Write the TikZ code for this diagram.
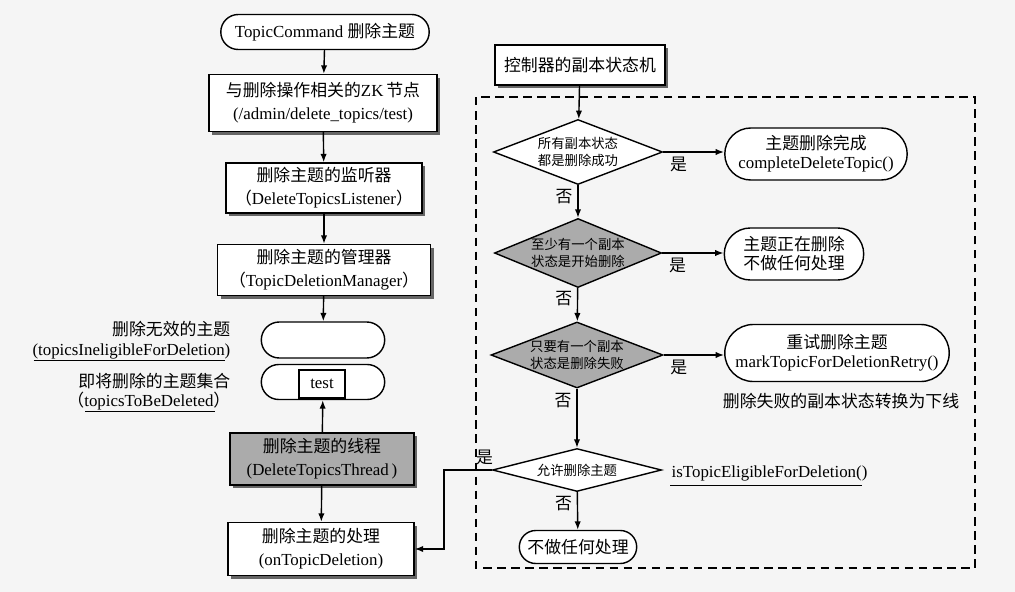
\documentclass[tikz,border=0pt]{standalone}
\usepackage{fontspec}
\setmainfont{Liberation Serif}
\newfontfamily\cjk{Noto Sans CJK SC}
\newcommand\zh[1]{{\cjk #1}}
\usetikzlibrary{shapes.geometric,shapes.misc,arrows.meta}

\tikzset{
  box/.style={draw, line width=1pt, fill=white, align=center, inner sep=2pt,
    preaction={fill=black!60, transform canvas={xshift=2.2pt, yshift=-2.2pt}}},
  pill/.style={rounded rectangle, draw, line width=1pt, fill=white, align=center, inner sep=2pt},
  decision/.style={diamond, draw, line width=1pt, fill=white, inner sep=0pt},
  dtext/.style={align=center, font=\fontsize{9.5}{12}\selectfont},
  arr/.style={line width=1pt, -{Latex[length=6pt,width=4.5pt]}},
  side/.style={inner sep=1pt},
}

\begin{document}
\begin{tikzpicture}[x=0.025cm, y=-0.025cm, font=\fontsize{12}{16.5}\selectfont]
  \fill[black!4] (0,0) rectangle (1015,592);
  \useasboundingbox (0,0) rectangle (1015,592);

  % left column
  \node[pill, minimum width=5.35cm, minimum height=0.875cm] (cmd) at (325,32)
    {TopicCommand \zh{删除主题}};
  \node[box, minimum width=5.7cm, minimum height=1.425cm] (zk) at (323,103)
    {\zh{与删除操作相关的}ZK\,\zh{节点}\\(/admin/delete\_topics/test)};
  \node[box, minimum width=4.9cm, minimum height=1.25cm] (lst) at (324,188)
    {\zh{删除主题的监听器}\\\zh{（}DeleteTopicsListener\zh{）}};
  \node[box, minimum width=5.325cm, minimum height=1.275cm] (mgr) at (324,270)
    {\zh{删除主题的管理器}\\\zh{（}TopicDeletionManager\zh{）}};
  \node[pill, minimum width=3.225cm, minimum height=0.9cm] (inel) at (323,340) {};
  \node[pill, minimum width=3.225cm, minimum height=0.875cm] (tobe) at (323,382) {};
  \node[draw, line width=1pt, fill=white, minimum width=1.15cm, minimum height=0.7cm] (test) at (322,384) {test};
  \node[box, fill=black!33, minimum width=4.6cm, minimum height=1.3cm] (thr) at (322,459)
    {\zh{删除主题的线程}\\(DeleteTopicsThread\,)};
  \node[box, minimum width=4.65cm, minimum height=1.325cm] (proc) at (321,549)
    {\zh{删除主题的处理}\\(onTopicDeletion)};

  % labels beside the pills
  \node[side, anchor=east] (inela) at (232,329) {\zh{删除无效的主题}};
  \node[side, anchor=east] (inelb) at (232,351) {(topicsIneligibleForDeletion)};
  \node[side, anchor=east] (tobea) at (232,381) {\zh{即将删除的主题集合}};
  \node[side, anchor=east] (tobeb) at (232,401) {\zh{（}topicsToBeDeleted\zh{）}};
  \draw[line width=0.9pt] ([xshift=2pt]inelb.south west) -- ([xshift=-5pt]inelb.south east);
  \draw[line width=0.9pt] ([xshift=14pt]tobeb.south west) -- ([xshift=-12pt]tobeb.south east);

  \draw[arr] (cmd) -- (zk);
  \draw[arr] (zk) -- (lst);
  \draw[arr] (lst) -- (mgr);
  \draw[arr] (mgr) -- (inel);
  \draw[arr] (thr) -- (tobe);
  \draw[arr] (thr) -- (proc);

  % replica state machine
  \node[box, minimum width=4.25cm, minimum height=1cm] (ctl) at (580,65) {\zh{控制器的副本状态机}};
  \draw[line width=1pt, dash pattern=on 6pt off 4pt] (476,97) rectangle (975,568);

  \node[decision, minimum width=4.225cm, minimum height=1.625cm,
    label={[dtext]center:\zh{所有副本状态}\\\zh{都是删除成功}}] (d1) at (578,152) {};
  \node[decision, fill=black!33, minimum width=4.175cm, minimum height=1.725cm,
    label={[dtext]center:\zh{至少有一个副本}\\\zh{状态是开始删除}}] (d2) at (578,253) {};
  \node[decision, fill=black!33, minimum width=4.3cm, minimum height=1.65cm,
    label={[dtext]center:\zh{只要有一个副本}\\\zh{状态是删除失败}}] (d3) at (577,355) {};
  \node[decision, minimum width=4.225cm, minimum height=1.075cm,
    label={[dtext]center:\zh{允许删除主题}}] (d4) at (577,470) {};

  \node[pill, minimum width=4.7cm, minimum height=1.3cm] (done) at (816,154)
    {\zh{主题删除完成}\\[-3pt]completeDeleteTopic()};
  \node[pill, minimum width=3.625cm, minimum height=1.3cm] (busy) at (794,254)
    {\zh{主题正在删除}\\[-3pt]\zh{不做任何处理}};
  \node[pill, minimum width=5.75cm, minimum height=1.425cm] (retry) at (837,353)
    {\zh{重试删除主题}\\[-3pt]markTopicForDeletionRetry()};
  \node (offline) at (841,401) {\zh{删除失败的副本状态转换为下线}};
  \node[pill, minimum width=3.075cm, minimum height=0.825cm] (idle) at (578,547) {\zh{不做任何处理}};
  \node[side, anchor=west] (elig) at (670,473) {isTopicEligibleForDeletion()};
  \draw[line width=0.9pt] ([yshift=-2pt]elig.south west) -- ([xshift=-5pt, yshift=-2pt]elig.south east);

  \draw[arr] (ctl) -- (d1);
  \draw[arr] (d1.east) -- node[below, pos=0.25]{\zh{是}} (d1.east -| done.west);
  \draw[arr] (d1) -- node[left, pos=0.35]{\zh{否}} (d2);
  \draw[arr] (d2.east) -- node[below, pos=0.25]{\zh{是}} (d2.east -| busy.west);
  \draw[arr] (d2) -- node[left, pos=0.3]{\zh{否}} (d3);
  \draw[arr] (d3.east) -- node[below, pos=0.25]{\zh{是}} (d3.east -| retry.west);
  \draw[arr] (d3) -- node[left, pos=0.2]{\zh{否}} (d4);
  \draw[arr] (d4) -- node[left, pos=0.3]{\zh{否}} (idle);
  \coordinate (bend) at (444,470);
  \draw[arr] (d4.west) -- node[above, pos=0.15]{\zh{是}} (bend) |- (proc.east);
\end{tikzpicture}
\end{document}
